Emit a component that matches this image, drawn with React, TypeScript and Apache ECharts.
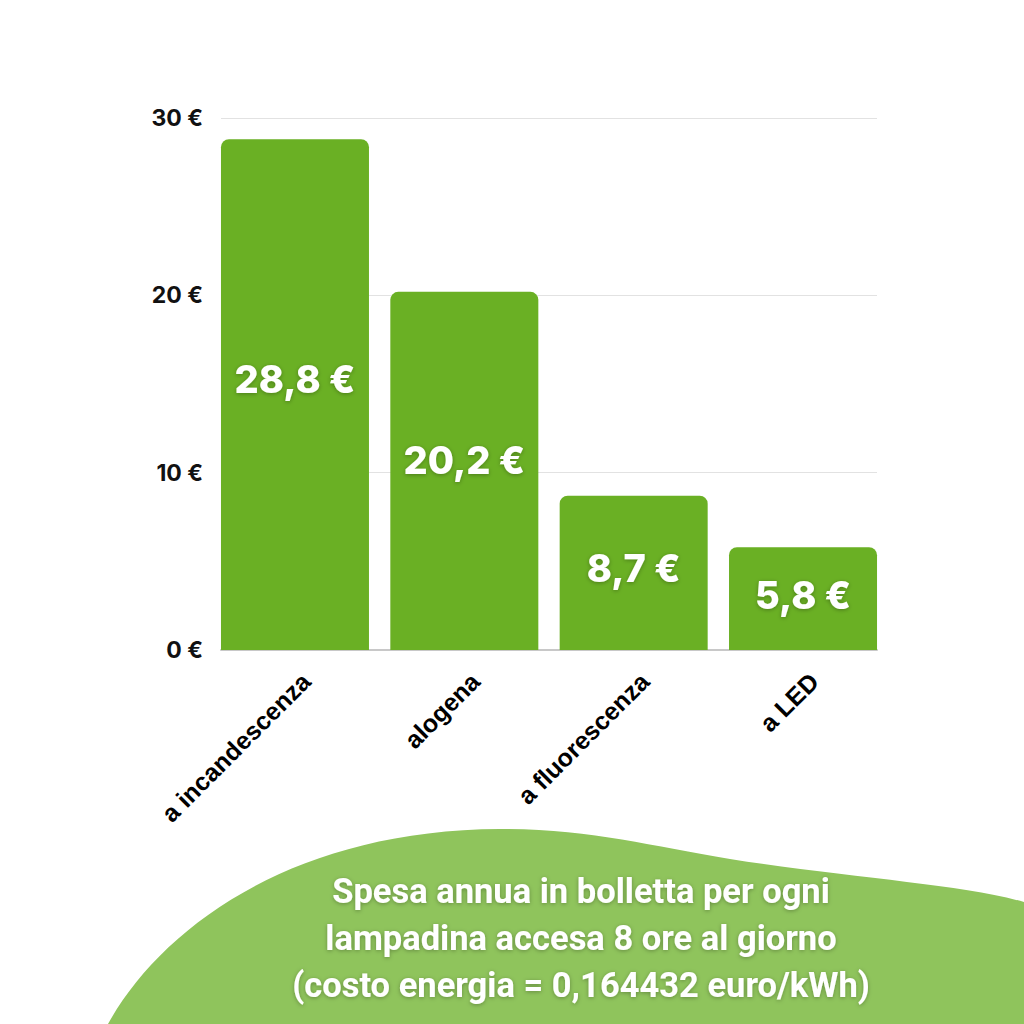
import React, { useEffect, useRef } from "react";
import * as echarts from "echarts";

const categories = ["a incandescenza", "alogena", "a fluorescenza", "a LED"];
const costs = [28.8, 20.2, 8.7, 5.8];
const yTicks = [0, 10, 20, 30];
const captionLines = [
  "Spesa annua in bolletta per ogni",
  "lampadina accesa 8 ore al giorno",
  "(costo energia = 0,164432 euro/kWh)",
];

const BLOB_D =
  "M108 1024 C160 930 290 830 500 829 C590 829 650 846 730 859 C850 878 960 884 1024 902 L1024 1024 Z";

export default function App() {
  const ref = useRef<HTMLDivElement>(null);
  useEffect(() => {
    document.body.style.margin = "0";
    if (!ref.current) return;
    echarts.graphic.registerShape("blob", echarts.graphic.extendPath(BLOB_D, {}));
    const chart = echarts.init(ref.current, null, { renderer: "svg" });
    const fmtVal = (v: number) => v.toFixed(1).replace(".", ",") + " €";
    chart.setOption({
      animation: false,
      backgroundColor: "#ffffff",
      grid: [
        { left: 210.3, right: 1024 - 887.7, top: 118, bottom: 374 },
        { left: 221, right: 147, top: 118, bottom: 374 },
        { left: 221.3, right: 1024 - 898.7, top: 118, bottom: 374 },
      ],
      xAxis: [
        {
          type: "category",
          gridIndex: 0,
          data: categories,
          axisLine: { show: false },
          axisTick: { show: false },
          axisLabel: { show: false },
        },
        {
          type: "value",
          gridIndex: 1,
          min: 0,
          max: 1,
          axisLine: { show: true, lineStyle: { color: "#c8c8c8", width: 2 } },
          axisTick: { show: false },
          axisLabel: { show: false },
          splitLine: { show: false },
        },
        {
          type: "category",
          gridIndex: 2,
          data: categories,
          axisLine: { show: false },
          axisTick: { show: false },
          axisLabel: {
            rotate: 45,
            margin: 27,
            color: "#000",
            fontFamily: "Liberation Sans",
            fontWeight: "bold",
            fontSize: 25,
            interval: 0,
          },
        },
      ],
      yAxis: [
        {
          type: "value",
          gridIndex: 0,
          min: 0,
          max: 30,
          interval: 10,
          axisLine: { show: false },
          axisTick: { show: false },
          axisLabel: { show: false },
          splitLine: { show: false },
        },
        {
          type: "value",
          gridIndex: 1,
          min: yTicks[0],
          max: yTicks[yTicks.length - 1],
          interval: 10,
          axisLine: { show: false },
          axisTick: { show: false },
          axisLabel: {
            margin: 18,
            color: "#111",
            fontFamily: "Inter",
            fontWeight: "bold",
            fontSize: 23,
            formatter: (v: number) => `${v} €`,
          },
          splitLine: { show: true, lineStyle: { color: "#e2e2e2", width: 1 } },
        },
        {
          type: "value",
          gridIndex: 2,
          min: 0,
          max: 30,
          interval: 10,
          show: false,
          splitLine: { show: false },
        },
      ],
      series: [
        {
          type: "bar",
          xAxisIndex: 0,
          yAxisIndex: 0,
          data: costs,
          barWidth: 148,
          itemStyle: { color: "#6ab024", borderRadius: [8, 8, 0, 0] },
          label: {
            show: true,
            position: ["50%", "47%"],
            align: "center",
            verticalAlign: "middle",
            formatter: (p: any) => fmtVal(p.value),
            color: "#fff",
            fontFamily: "Inter",
            fontWeight: 800,
            fontSize: 38,
            textShadowColor: "rgba(0,0,0,0.3)",
            textShadowBlur: 4,
            textShadowOffsetY: 1,
          },
          z: 3,
        },
      ],
      graphic: [
        {
          type: "blob",
          x: 0,
          y: 0,
          z: -1,
          style: { fill: "#8fc45c" },
        },
        {
          type: "text",
          x: 581,
          y: 867,
          z: 10,
          style: {
            text: captionLines.join("\n"),
            fill: "#fff",
            fontFamily: "Roboto",
            fontWeight: "bold",
            fontSize: 34.5,
            lineHeight: 47,
            textAlign: "center",
            textVerticalAlign: "top",
            textShadowColor: "rgba(0,0,0,0.3)",
            textShadowBlur: 4,
            textShadowOffsetY: 1,
          },
        },
      ],
    });
    return () => chart.dispose();
  }, []);
  return <div ref={ref} style={{ width: 1024, height: 1024 }} />;
}
